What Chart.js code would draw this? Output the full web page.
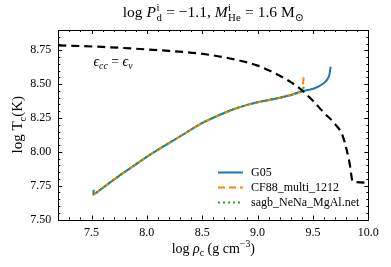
<!DOCTYPE html>
<html lang="en">
<head>
<meta charset="UTF-8">
<title>log Tc vs log rho_c</title>
<script src="https://cdn.jsdelivr.net/npm/chart.js"></script>
<style>
    body { margin: 0; background: #ffffff; }
    #wrap { width: 391px; height: 267px; }
</style>
</head>
<body>
<div id="wrap"><canvas id="tcChart"></canvas></div>
<script>
// values
const g05X = [7.52, 7.52, 7.60, 7.74, 7.90, 8.05, 8.20, 8.35, 8.50, 8.65, 8.77, 8.90, 9.04, 9.20, 9.31, 9.40, 9.51, 9.60, 9.645, 9.66];
const g05Y = [7.72, 7.685, 7.733, 7.817, 7.907, 7.99, 8.065, 8.139, 8.213, 8.27, 8.311, 8.345, 8.373, 8.40, 8.422, 8.447, 8.468, 8.509, 8.558, 8.63];
const cf88X = [7.52, 7.60, 7.74, 7.90, 8.05, 8.20, 8.35, 8.50, 8.65, 8.77, 8.90, 9.04, 9.20, 9.31, 9.40, 9.41, 9.42];
const cf88Y = [7.685, 7.733, 7.817, 7.907, 7.99, 8.065, 8.139, 8.213, 8.27, 8.311, 8.345, 8.373, 8.40, 8.422, 8.447, 8.50, 8.58];
const sagbX = [7.52, 7.52, 7.60, 7.74, 7.90, 8.05, 8.20, 8.35, 8.50, 8.65, 8.77, 8.90, 9.04, 9.20, 9.31, 9.40, 9.425];
const sagbY = [7.70, 7.685, 7.733, 7.817, 7.907, 7.99, 8.065, 8.139, 8.213, 8.27, 8.311, 8.345, 8.373, 8.40, 8.422, 8.447, 8.50];
// epsilon_cc = epsilon_nu boundary
const eqX = [7.2, 7.6, 8.12, 8.48, 8.78, 9.0, 9.1, 9.2, 9.3, 9.4, 9.5, 9.6, 9.7, 9.77, 9.83, 9.86, 9.98];
const eqY = [8.787, 8.775, 8.75, 8.726, 8.685, 8.637, 8.602, 8.562, 8.515, 8.455, 8.377, 8.288, 8.205, 8.115, 7.92, 7.78, 7.773];

const xTicks = [7.5, 8.0, 8.5, 9.0, 9.5, 10.0];
const yTicks = [7.50, 7.75, 8.00, 8.25, 8.50, 8.75];
const legendNames = ['G05', 'CF88_multi_1212', 'sagb_NeNa_MgAl.net'];

const SERIF = '"Liberation Serif", "DejaVu Serif", serif';

function pts(xs, ys) {
    return xs.map((x, i) => ({ x: x, y: ys[i] }));
}

function fnt(p, size) {
    return (p.i ? 'italic ' : '') + size + 'px ' + SERIF;
}

// measure / draw a run of text pieces with sub and superscripts
function richWidth(ctx, parts, base) {
    let w = 0;
    for (const p of parts) {
        if (p.st) {
            ctx.font = fnt(p, base * 0.7);
            w += Math.max(ctx.measureText(p.st[0]).width, ctx.measureText(p.st[1]).width) + 1;
        } else {
            ctx.font = fnt(p, p.sub || p.sup ? base * 0.7 : base);
            w += ctx.measureText(p.t).width;
        }
    }
    return w;
}

function drawRich(ctx, parts, cx, cy, base) {
    let x = cx - richWidth(ctx, parts, base) / 2;
    ctx.textBaseline = 'alphabetic';
    ctx.textAlign = 'left';
    const baseY = cy + base * 0.35;
    for (const p of parts) {
        if (p.st) {
            ctx.font = fnt(p, base * 0.7);
            ctx.fillText(p.st[0], x + 0.5, baseY - base * 0.42);
            ctx.fillText(p.st[1], x + 0.5, baseY + base * 0.22);
            x += Math.max(ctx.measureText(p.st[0]).width, ctx.measureText(p.st[1]).width) + 1;
        } else {
            const s = p.sub || p.sup ? base * 0.7 : base;
            ctx.font = fnt(p, s);
            const dy = p.sub ? base * 0.22 : (p.sup ? -base * 0.42 : 0);
            ctx.fillText(p.t, x, baseY + dy);
            x += ctx.measureText(p.t).width;
        }
    }
}

const decorPlugin = {
    id: 'decor',
    afterDatasetsDraw(chart) {
        const ctx = chart.ctx;
        const a = chart.chartArea;
        const xs = chart.scales.x, ys = chart.scales.y;
        ctx.save();
        ctx.strokeStyle = '#000';
        ctx.fillStyle = '#000';
        ctx.lineWidth = 1;

        // inward ticks on all four sides
        ctx.beginPath();
        for (let v = 7.2; v <= 10.001; v += 0.1) {
            const px = Math.round(xs.getPixelForValue(v)) + 0.5;
            const major = xTicks.some(t => Math.abs(t - v) < 1e-6);
            const len = major ? 4 : 2;
            ctx.moveTo(px, a.bottom); ctx.lineTo(px, a.bottom - len);
            ctx.moveTo(px, a.top); ctx.lineTo(px, a.top + len);
        }
        for (let v = 7.5; v <= 8.9; v += 0.05) {
            const py = Math.round(ys.getPixelForValue(v)) + 0.5;
            const major = yTicks.some(t => Math.abs(t - v) < 1e-6);
            const len = major ? 4 : 2;
            ctx.moveTo(a.left, py); ctx.lineTo(a.left + len, py);
            ctx.moveTo(a.right, py); ctx.lineTo(a.right - len, py);
        }
        ctx.stroke();
        ctx.strokeRect(Math.round(a.left) + 0.5, Math.round(a.top) + 0.5,
            Math.round(a.right - a.left), Math.round(a.bottom - a.top));

        // title
        drawRich(ctx, [
            { t: 'log ' }, { t: 'P', i: 1 }, { st: ['i', 'd'] },
            { t: ' = \u22121.1, ' }, { t: 'M', i: 1 }, { st: ['i', 'He'] },
            { t: ' = 1.6 M' }, { t: '\u2299', sub: 1 }
        ], (a.left + a.right) / 2, 12, 15.5);

        // x axis label
        drawRich(ctx, [
            { t: 'log ' }, { t: '\u03c1', i: 1 }, { t: 'c', sub: 1 },
            { t: ' (g cm' }, { t: '\u22123', sup: 1 }, { t: ')' }
        ], (a.left + a.right) / 2, 248, 14);

        // y axis label
        ctx.save();
        ctx.translate(17, (a.top + a.bottom) / 2);
        ctx.rotate(-Math.PI / 2);
        drawRich(ctx, [
            { t: 'log T' }, { t: 'c', sub: 1 }, { t: '(K)' }
        ], 0, 0, 15);
        ctx.restore();

        // annotation
        drawRich(ctx, [
            { t: '\u03f5', i: 1 }, { t: 'cc', sub: 1, i: 1 }, { t: ' = ' },
            { t: '\u03f5', i: 1 }, { t: '\u03bd', sub: 1, i: 1 }
        ], 113, 61, 14);

        // legend
        [0, 1, 2].forEach((di, k) => {
            const ds = chart.data.datasets[di];
            const y = 172.5 + k * 15;
            ctx.save();
            ctx.strokeStyle = ds.borderColor;
            ctx.lineWidth = ds.borderWidth;
            ctx.setLineDash(ds.borderDash || []);
            ctx.beginPath();
            ctx.moveTo(218, y); ctx.lineTo(243, y);
            ctx.stroke();
            ctx.restore();
            ctx.font = '12px ' + SERIF;
            ctx.textAlign = 'left';
            ctx.textBaseline = 'middle';
            ctx.fillText(legendNames[k], 251, y + 0.5);
        });
        ctx.restore();
    }
};

new Chart(document.getElementById('tcChart'), {
    type: 'line',
    data: {
        datasets: [
            { label: legendNames[0], data: pts(g05X, g05Y), borderColor: '#1f77b4', borderWidth: 2, order: 3 },
            { label: legendNames[1], data: pts(cf88X, cf88Y), borderColor: '#ff7f0e', borderWidth: 2, borderDash: [7, 4], order: 2 },
            { label: legendNames[2], data: pts(sagbX, sagbY), borderColor: '#2ca02c', borderWidth: 2, borderDash: [2, 3], order: 1 },
            { label: 'eq', data: pts(eqX, eqY), borderColor: '#000000', borderWidth: 2.2, borderDash: [8, 5], order: 0, cubicInterpolationMode: 'monotone' }
        ]
    },
    options: {
        responsive: true,
        maintainAspectRatio: false,
        animation: false,
        layout: { padding: { top: 30, right: 22.7, left: 0, bottom: 0 } },
        elements: {
            point: { radius: 0 },
            line: { tension: 0.2, fill: false, borderCapStyle: 'butt' }
        },
        plugins: {
            legend: { display: false },
            tooltip: { enabled: false }
        },
        scales: {
            x: {
                type: 'linear',
                min: 7.2,
                max: 10.0,
                afterBuildTicks: s => { s.ticks = xTicks.map(v => ({ value: v })); },
                afterFit: s => { s.height = 47.5; },
                grid: { display: false, drawTicks: false },
                border: { display: false },
                ticks: {
                    padding: 6,
                    color: '#000',
                    font: { family: SERIF, size: 12 },
                    maxRotation: 0,
                    callback: v => Number(v).toFixed(1)
                }
            },
            y: {
                type: 'linear',
                min: 7.5,
                max: 8.9,
                afterBuildTicks: s => { s.ticks = yTicks.map(v => ({ value: v })); },
                afterFit: s => { s.width = 58.3; },
                grid: { display: false, drawTicks: false },
                border: { display: false },
                ticks: {
                    padding: 7,
                    color: '#000',
                    font: { family: SERIF, size: 12 },
                    callback: v => Number(v).toFixed(2)
                }
            }
        }
    },
    plugins: [decorPlugin]
});
</script>
</body>
</html>
